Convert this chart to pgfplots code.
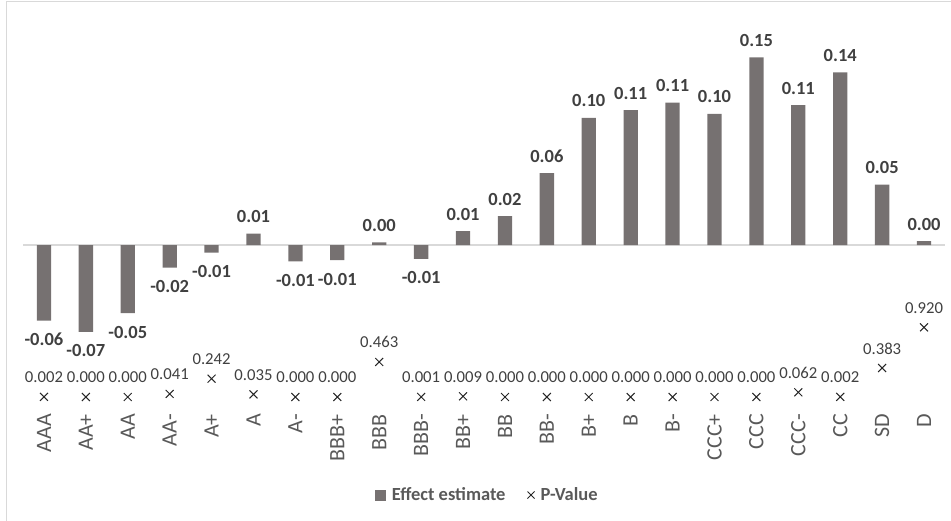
\documentclass[border=0pt]{standalone}
\usepackage{pgfplots}
\pgfplotsset{compat=1.18}
\usepackage{fontspec}
\setmainfont{Carlito}
\definecolor{barcol}{HTML}{767171}
\definecolor{lblcol}{HTML}{404040}
\definecolor{tickcol}{HTML}{595959}
\definecolor{gridcol}{HTML}{D9D9D9}
\begin{document}
\begin{tikzpicture}
\useasboundingbox (0,0) rectangle (951bp,521bp);
\draw[gridcol, line width=1bp] (6.5bp,0) -- (6.5bp,519.5bp) -- (951bp,519.5bp);
\begin{axis}[
  at={(23bp,116bp)}, anchor=south west,
  scale only axis, width=922bp, height=385bp,
  xmin=-0.5, xmax=21.5, ymin=-0.127, ymax=0.1786,
  axis line style={draw=none},
  ytick=\empty,
  extra y ticks={0}, extra y tick labels={},
  extra y tick style={grid=major, major grid style={gridcol, line width=1.3bp}},
  xtick={0,...,21},
  xticklabels={AAA,AA+,AA,AA-,A+,A,A-,BBB+,BBB,BBB-,BB+,BB,BB-,B+,B,B-,CCC+,CCC,CCC-,CC,SD,D},
  major tick length=0pt,
  xticklabel shift=9bp,
  xticklabel style={rotate=90, anchor=east, inner sep=0pt, font=\fontsize{22bp}{24bp}\selectfont, text=tickcol},
  clip=false,
  ybar, bar width=14.3bp,
]
\addplot[fill=barcol, draw=none, bar shift=0pt,
  nodes near coords={\pgfmathprintnumber[fixed,fixed zerofill,precision=2,assume math mode=true]{\pgfplotspointmeta}},
  nodes near coords style={anchor=base, yshift=11bp, inner sep=0pt, font=\bfseries\fontsize{18.5bp}{20bp}\selectfont, text=lblcol}]
coordinates {(5,0.009) (8,0.002) (10,0.011) (11,0.023) (12,0.057) (13,0.101) (14,0.107) (15,0.113) (16,0.104) (17,0.149) (18,0.111) (19,0.137) (20,0.048) (21,0.003)};
\addplot[fill=barcol, draw=none, bar shift=0pt,
  nodes near coords={\pgfmathprintnumber[fixed,fixed zerofill,precision=2,assume math mode=true]{\pgfplotspointmeta}},
  nodes near coords style={anchor=base, yshift=-25bp, inner sep=0pt, font=\bfseries\fontsize{18.5bp}{20bp}\selectfont, text=lblcol}]
coordinates {(0,-0.060) (1,-0.069) (2,-0.054) (3,-0.018) (4,-0.006) (6,-0.013) (7,-0.012) (9,-0.011)};
\end{axis}
\begin{axis}[
  at={(23bp,116bp)}, anchor=south west,
  scale only axis, width=922bp, height=385bp,
  xmin=-0.5, xmax=21.5, ymin=-0.1057, ymax=4.980,
  hide axis, clip=false,
  legend columns=2,
  legend style={at={(0.5038,-0.2338)}, anchor=center, draw=none, fill=none,
    font=\bfseries\fontsize{18.5bp}{20bp}\selectfont, text=tickcol,
    /tikz/every odd column/.append style={column sep=4bp},
    /tikz/every even column/.append style={column sep=20bp}},
]
\addlegendimage{legend image code/.code={\fill[barcol] (0bp,-5bp) rectangle (10bp,5bp);}}
\addlegendentry{Effect estimate}
\addplot[only marks, mark=x, mark size=5.6bp, mark options={line width=1bp}, color=black!85,
  legend image code/.code={\draw[mark size=5bp, mark options={line width=0.9bp}] plot coordinates {(5bp,0bp)};},
  nodes near coords={\pgfmathprintnumber[fixed,fixed zerofill,precision=3,assume math mode=true]{\pgfplotspointmeta}},
  nodes near coords style={anchor=base, yshift=14bp, inner sep=0pt, font=\fontsize{16.7bp}{18bp}\selectfont, text=lblcol}]
coordinates {(0,0.002) (1,0.000) (2,0.000) (3,0.041) (4,0.242) (5,0.035) (6,0.000) (7,0.000) (8,0.463) (9,0.001) (10,0.009) (11,0.000) (12,0.000) (13,0.000) (14,0.000) (15,0.000) (16,0.000) (17,0.000) (18,0.062) (19,0.002) (20,0.383) (21,0.920)};
\addlegendentry{P-Value}
\end{axis}
\end{tikzpicture}
\end{document}
